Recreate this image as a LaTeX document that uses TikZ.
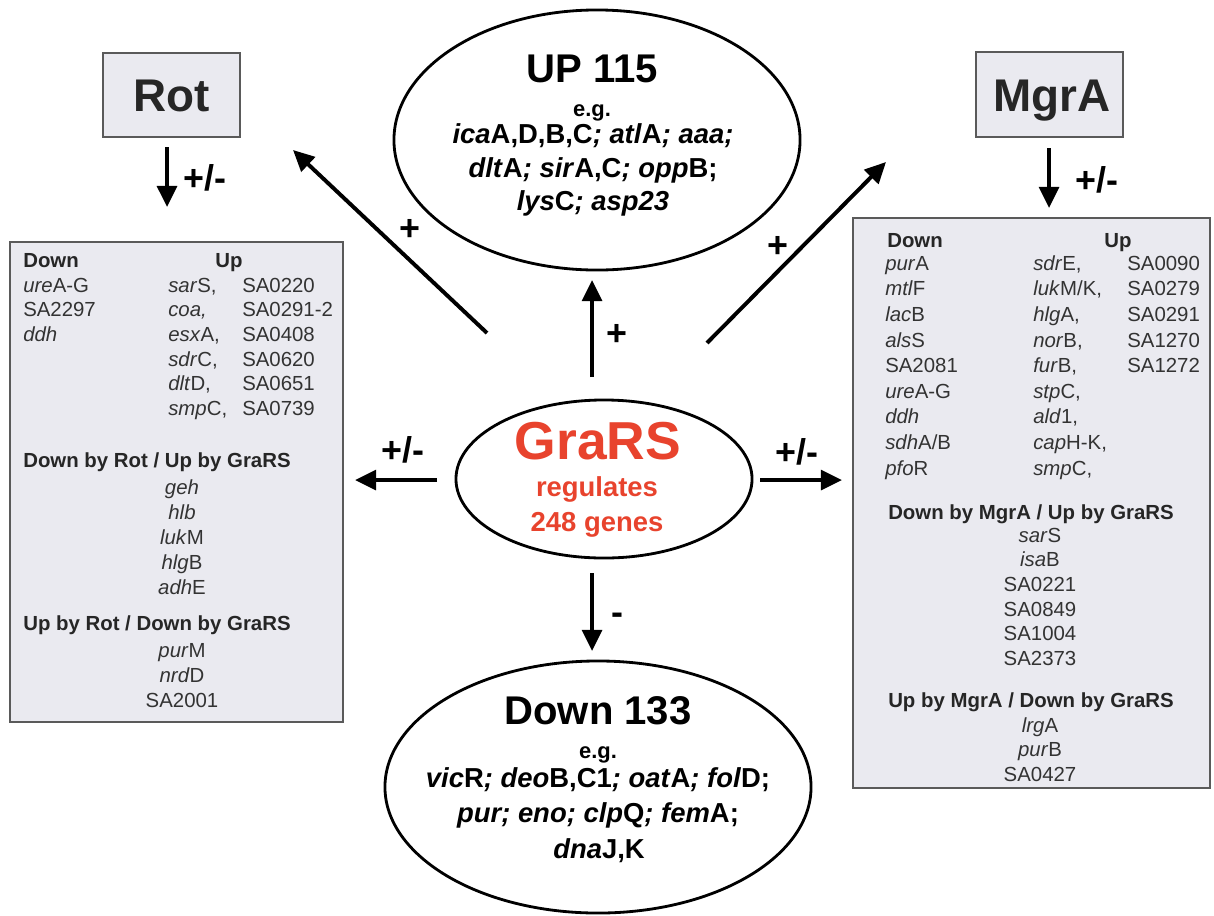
\documentclass[tikz,border=0pt]{standalone}
\usepackage{fontspec}
\setmainfont{Liberation Sans}
\usetikzlibrary{arrows.meta,shapes.geometric}
\definecolor{boxfill}{HTML}{EAEAF0}
\definecolor{boxline}{HTML}{5A5A5A}
\definecolor{gred}{HTML}{E8432D}
\definecolor{txt}{HTML}{333333}
\newcommand\gn[1]{\textit{#1}}
\newcommand\fs[1]{\fontsize{#1}{#1}\selectfont}

\begin{document}
\begin{tikzpicture}[x=0.025cm,y=-0.025cm,
  panel/.style={draw=boxline, line width=1.6pt, fill=boxfill, inner sep=0},
  arr/.style={line width=2.8pt, -{Triangle[length=15pt,width=14pt]}},
  oval/.style={ellipse, draw, line width=2pt, inner sep=0},
  sym/.style={anchor=base, inner sep=0, font=\fs{25.5}\bfseries},
  row/.style={anchor=base west, inner sep=0, font=\fs{14.5}, text=txt},
  rowc/.style={anchor=base, inner sep=0, font=\fs{14.5}, text=txt},
  head/.style={anchor=base west, inner sep=0, font=\fs{14.5}\bfseries, text=black!85},
  big/.style={anchor=base, inner sep=0, font=\fs{28.5}\bfseries},
  genes/.style={anchor=base, inner sep=0, font=\fs{19.5}\bfseries},
]
\fill[white] (0,0) rectangle (1214,915);
\useasboundingbox (0,0) rectangle (1214,915);

% regulator boxes
\node[panel, minimum width=3.425cm, minimum height=2.1cm] (rot) at (171.5,95) {};
\node[anchor=base, inner sep=0, font=\fs{32.6}\bfseries, text=black!85] (rotT) at (171.5,111.5) {Rot};
\node[panel, minimum width=3.675cm, minimum height=2.125cm] (mgra) at (1049.5,94.5) {};
\node[anchor=base, inner sep=0, font=\fs{32.6}\bfseries, text=black!85] (mgraT) at (1052,111.5) {MgrA};

% gene list panels
\node[panel, minimum width=8.325cm, minimum height=12cm] (lbox) at (176.5,482) {};
\node[panel, minimum width=8.925cm, minimum height=14.25cm] (rbox) at (1031.5,503) {};

% ellipses
\node[oval, minimum width=7.4cm, minimum height=3.95cm] (grars) at (604,479) {};
\node[oval, minimum width=10.15cm, minimum height=6.5cm] (up) at (597,140) {};
\node[oval, minimum width=10.65cm, minimum height=6.3cm] (down) at (598,787) {};

% central text
\node[anchor=base, inner sep=0, font=\fs{38}\bfseries, text=gred] (grT) at (598,459) {GraRS};
\node[anchor=base, inner sep=0, font=\fs{19.5}\bfseries, text=gred] (grT2) at (597,496) {regulates};
\node[anchor=base, inner sep=0, font=\fs{19.5}\bfseries, text=gred] (grT3) at (597,531) {248 genes};

% up-regulated set
\node[big] (upT) at (592,82) {UP 115};
\node[anchor=base, inner sep=0, font=\fs{15.6}\bfseries] (upEg) at (592,116) {e.g.};
\node[genes] (upG1) at (593,143) {\gn{ica}A,D,B,C\gn{; atl}A\gn{; aaa;}};
\node[genes] (upG2) at (593,177) {\gn{dlt}A\gn{; sir}A,C\gn{; opp}B;};
\node[genes] (upG3) at (593,210) {\gn{lys}C\gn{; asp23}};

% down-regulated set
\node[big] (dnT) at (598,724) {Down 133};
\node[anchor=base, inner sep=0, font=\fs{15.6}\bfseries] (dnEg) at (598,758) {e.g.};
\node[genes] (dnG1) at (598,787) {\gn{vic}R\gn{; deo}B,C1\gn{; oat}A\gn{; fol}D;};
\node[genes] (dnG2) at (598,822) {\gn{pur; eno; clp}Q\gn{; fem}A;};
\node[genes] (dnG3) at (599,858) {\gn{dna}J,K};

% connectors
\coordinate (aUs) at (592,377); \coordinate (aUe) at (592,280);
\coordinate (aDs) at (592,573); \coordinate (aDe) at (592,651);
\coordinate (aLs) at (437,480); \coordinate (aLe) at (355,480);
\coordinate (aRs) at (760,480); \coordinate (aRe) at (842,480);
\coordinate (aULs) at (487,333); \coordinate (aULe) at (293,150);
\coordinate (aURs) at (707,343); \coordinate (aURe) at (886,162);
\coordinate (rotS) at (167,147); \coordinate (rotE) at (167,207);
\coordinate (mgrS) at (1049,148); \coordinate (mgrE) at (1049,208);
\draw[arr] (aUs) -- (aUe);
\draw[arr] (aDs) -- (aDe);
\draw[arr] (aLs) -- (aLe);
\draw[arr] (aRs) -- (aRe);
\draw[arr] (aULs) -- (aULe);
\draw[arr] (aURs) -- (aURe);
\draw[arr] (rotS) -- (rotE);
\draw[arr] (mgrS) -- (mgrE);

\node[sym] (sU) at (617,345) {+};
\node[sym] (sD) at (617,624) {-};
\node[sym] (sL) at (403,462) {+/-};
\node[sym] (sR) at (797,464) {+/-};
\node[sym] (sUL) at (410,240) {+};
\node[sym] (sUR) at (778,257) {+};
\node[sym] (sRot) at (205,190) {+/-};
\node[sym] (sMgr) at (1097,192) {+/-};

% Rot panel contents
\node[head] (lDown) at (23,267) {Down};
\node[head, anchor=base] (lUp) at (229,267) {Up};
\foreach \t [count=\i from 0] in {{\gn{ure}A-G}, SA2297, \gn{ddh}}
  \node[row] (lA\i) at (23,{292.3+24.6*\i}) {\t};
\foreach \t [count=\i from 0] in {{\gn{sar}S,}, {\gn{coa,}}, {\gn{esx}A,}, {\gn{sdr}C,}, {\gn{dlt}D,}, {\gn{smp}C,}}
  \node[row] (lB\i) at (168,{292.3+24.6*\i}) {\t};
\foreach \t [count=\i from 0] in {SA0220, SA0291-2, SA0408, SA0620, SA0651, SA0739}
  \node[row] (lC\i) at (242,{292.3+24.6*\i}) {\t};
\node[head] (lH2) at (23,467) {Down by Rot / Up by GraRS};
\foreach \t [count=\i from 0] in {\gn{geh}, \gn{hlb}, {\gn{luk}M}, {\gn{hlg}B}, {\gn{adh}E}}
  \node[rowc] (lD\i) at (182,{494.3+25*\i}) {\t};
\node[head] (lH3) at (23,630) {Up by Rot / Down by GraRS};
\foreach \t [count=\i from 0] in {{\gn{pur}M}, {\gn{nrd}D}, SA2001}
  \node[rowc] (lE\i) at (182,{657.3+25*\i}) {\t};

% MgrA panel contents
\node[head] (rDown) at (887,247) {Down};
\node[head, anchor=base] (rUp) at (1118,247) {Up};
\foreach \t [count=\i from 0] in {{\gn{pur}A}, {\gn{mtl}F}, {\gn{lac}B}, {\gn{als}S}, SA2081, {\gn{ure}A-G}, \gn{ddh}, {\gn{sdh}A/B}, {\gn{pfo}R}}
  \node[row] (rA\i) at (885,{270.3+25.6*\i}) {\t};
\foreach \t [count=\i from 0] in {{\gn{sdr}E,}, {\gn{luk}M/K,}, {\gn{hlg}A,}, {\gn{nor}B,}, {\gn{fur}B,}, {\gn{stp}C,}, {\gn{ald}1,}, {\gn{cap}H-K,}, {\gn{smp}C,}}
  \node[row] (rB\i) at (1033,{270.3+25.6*\i}) {\t};
\foreach \t [count=\i from 0] in {SA0090, SA0279, SA0291, SA1270, SA1272}
  \node[row] (rC\i) at (1127,{270.3+25.6*\i}) {\t};
\node[head, anchor=base] (rH2) at (1031,519) {Down by MgrA / Up by GraRS};
\foreach \t [count=\i from 0] in {{\gn{sar}S}, {\gn{isa}B}, SA0221, SA0849, SA1004, SA2373}
  \node[rowc] (rD\i) at (1040,{542.3+24.6*\i}) {\t};
\node[head, anchor=base] (rH3) at (1031,707) {Up by MgrA / Down by GraRS};
\foreach \t [count=\i from 0] in {{\gn{lrg}A}, {\gn{pur}B}, SA0427}
  \node[rowc] (rE\i) at (1040,{732.3+24.5*\i}) {\t};
\end{tikzpicture}
\end{document}
